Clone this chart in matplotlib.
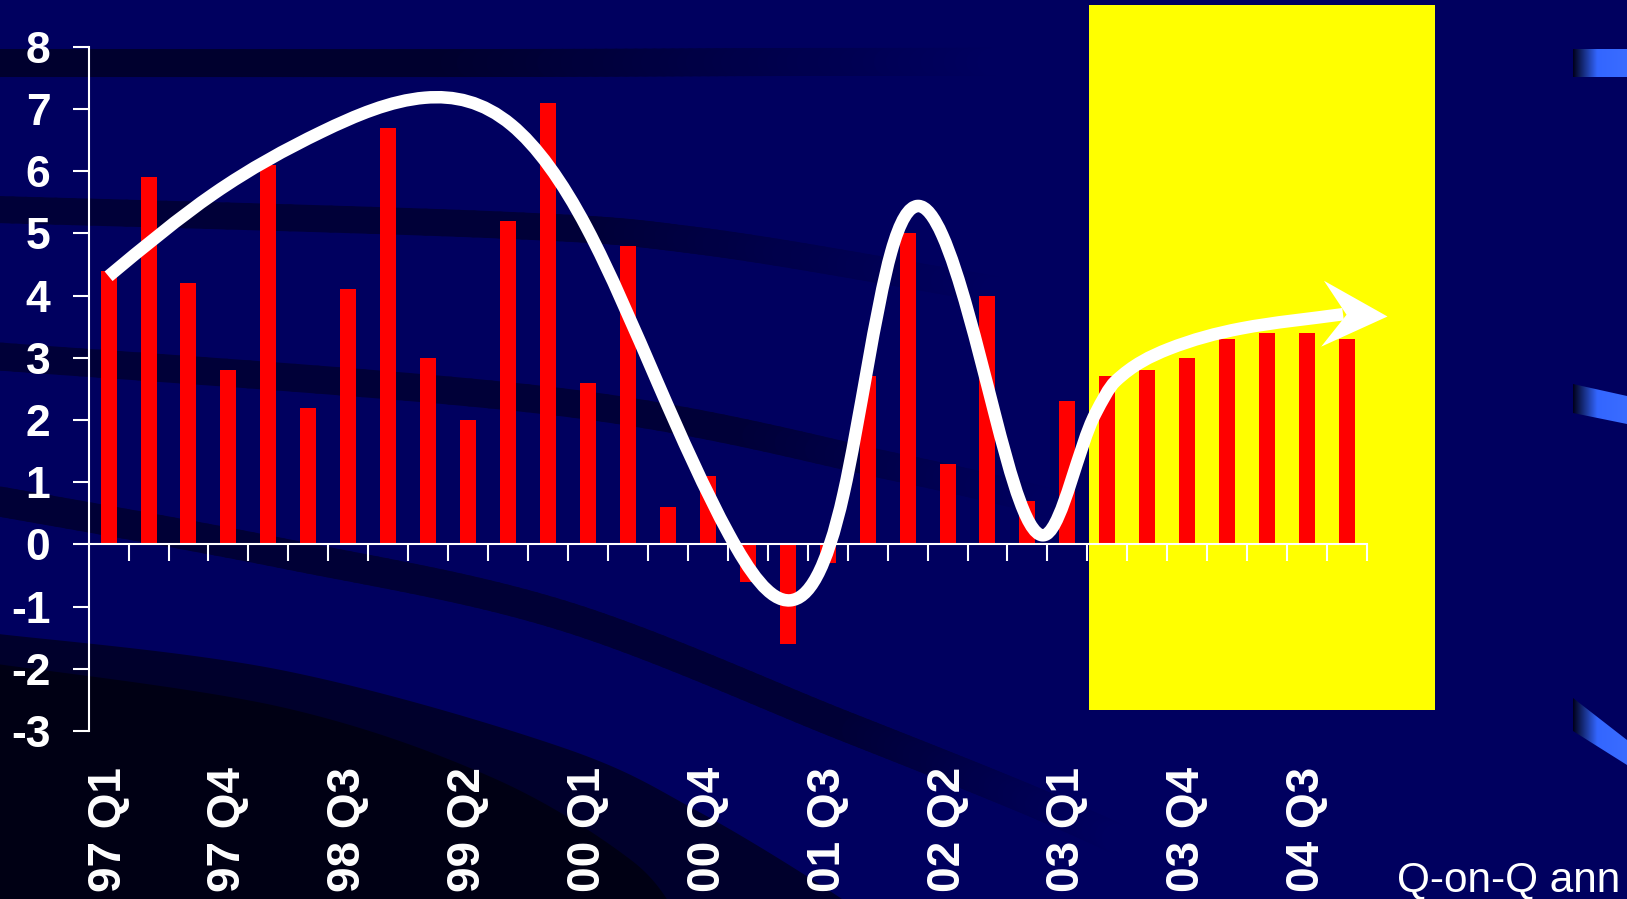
import numpy as np
import matplotlib
matplotlib.use("Agg")
import matplotlib.pyplot as plt
from matplotlib.patches import Rectangle, PathPatch, Polygon
from matplotlib.path import Path
from matplotlib.markers import MarkerStyle
from matplotlib.transforms import Affine2D
from matplotlib.collections import LineCollection
from matplotlib.colors import LinearSegmentedColormap, to_rgb

# ---------------- data ----------------
quarters = ["97 Q1", "97 Q2", "97 Q3", "97 Q4", "98 Q1", "98 Q2", "98 Q3", "98 Q4",
            "99 Q1", "99 Q2", "99 Q3", "99 Q4", "00 Q1", "00 Q2", "00 Q3", "00 Q4",
            "01 Q1", "01 Q2", "01 Q3", "01 Q4", "02 Q1", "02 Q2", "02 Q3", "02 Q4",
            "03 Q1", "03 Q2", "03 Q3", "03 Q4", "04 Q1", "04 Q2", "04 Q3", "04 Q4"]
growth = [4.4, 5.9, 4.2, 2.8, 6.1, 2.2, 4.1, 6.7, 3.0, 2.0, 5.2, 7.1,
          2.6, 4.8, 0.6, 1.1, -0.6, -1.6, -0.3, 2.7, 5.0, 1.3, 4.0, 0.7,
          2.3, 2.7, 2.8, 3.0, 3.3, 3.4, 3.4, 3.3]
yticks = [-3, -2, -1, 0, 1, 2, 3, 4, 5, 6, 7, 8]
label_step = 3
# hand-drawn trend arrow knots (category index, value)
trend_x = [0.0, 2.64, 5.33, 7.92, 10.09, 11.97, 13.75, 15.53, 17.06, 18.40, 19.59,
           20.26, 20.87, 22.16, 23.47, 24.7, 25.2, 26.53, 28.34, 30.9]
trend_y = [4.31, 5.64, 6.63, 7.18, 6.74, 5.09, 2.59, 0.16, -0.90, 0.82, 4.70,
           5.44, 4.97, 2.15, 0.16, 2.10, 2.62, 3.14, 3.47, 3.70]
tail_start = 24.7          # from here the arrow levels off monotonically
arrow_tip = (31.99, 3.67)
forecast_span = (24.55, 33.2)   # highlighted forecast region (x, category units)
forecast_y = (-2.66, 8.67)
note_text = "Q-on-Q ann"

# ---------------- style ----------------
BASE = "#00005f"
plt.rcParams["font.family"] = ["Liberation Sans", "DejaVu Sans"]
plt.rcParams["axes.unicode_minus"] = False

W, H, DPI = 1627, 899, 100
fig = plt.figure(figsize=(W / DPI, H / DPI), dpi=DPI)
fig.patch.set_facecolor(BASE)

# ---------------- background decoration (pixel coords) ----------------
bg = fig.add_axes([0, 0, 1, 1], zorder=-5)
bg.axis("off")


def smooth(pts, n=30):
    pts = np.asarray(pts, float)
    P = np.vstack([pts[0], pts, pts[-1]])
    out = []
    for i in range(1, len(P) - 2):
        p0, p1, p2, p3 = P[i - 1], P[i], P[i + 1], P[i + 2]
        t = np.linspace(0, 1, n, endpoint=False)[:, None]
        out.append(0.5 * ((2 * p1) + (-p0 + p2) * t + (2 * p0 - 5 * p1 + 4 * p2 - p3) * t ** 2
                          + (-p0 + 3 * p1 - 3 * p2 + p3) * t ** 3))
    out.append(P[-2][None, :])
    return np.vstack(out)


def band(pts, width_px, dark, fade_from, fade_to):
    s = smooth(pts)
    segs = np.stack([s[:-1], s[1:]], axis=1)
    xm = 0.5 * (s[:-1, 0] + s[1:, 0])
    t = np.clip((xm - fade_from) / (fade_to - fade_from), 0, 1)
    d = np.array(to_rgb(dark)); b = np.array(to_rgb(BASE))
    cols = d[None, :] * (1 - t[:, None]) + b[None, :] * t[:, None]
    lc = LineCollection(segs, colors=cols, linewidths=width_px * 72 / DPI,
                        capstyle="round", zorder=1)
    bg.add_collection(lc)


def region(pts, color, z):
    c = smooth(pts)
    poly = np.vstack([c, [(c[-1, 0], 920), (-10, 920)]])
    bg.add_patch(Polygon(poly, closed=True, facecolor=color, edgecolor="none", zorder=z))


band([(-20, 63), (500, 63), (800, 62), (1100, 62)], 28, "#00002e", 450, 1000)
band([(-20, 209), (500, 225), (700, 241), (950, 282), (1050, 300)], 27, "#000038", 600, 1000)
band([(-20, 355), (560, 402), (900, 468), (1060, 505)], 28, "#000038", 750, 1050)
band([(-20, 498), (281, 553), (561, 615), (842, 725), (1017, 795), (1120, 840)], 30,
     "#000036", 850, 1120)

# bottom-left dark sweep
region([(-10, 633), (281, 670), (561, 747), (701, 813), (842, 899), (860, 920)], "#00002c", 0.5)
region([(-10, 663), (281, 707), (491, 777), (631, 860), (680, 920)], "#000014", 0.6)

# blue ribbons on the right
rib_cmap = LinearSegmentedColormap.from_list("rib", [(0, "#00001a"), (0.45, "#3366ff"), (1, "#3a6cff")])
grad = np.linspace(0, 1, 256).reshape(1, -1)
for quad in [[(1573, 49), (1627, 49), (1627, 77), (1573, 77)],
             [(1573, 384), (1627, 396), (1627, 424), (1573, 413)],
             [(1573, 698), (1627, 740), (1627, 765), (1573, 731)]]:
    poly = Polygon(quad, closed=True, facecolor="none", edgecolor="none")
    bg.add_patch(poly)
    ys = [p[1] for p in quad]
    im = bg.imshow(grad, extent=[1573, 1627, max(ys), min(ys)], cmap=rib_cmap,
                   aspect="auto", zorder=2, interpolation="bilinear")
    im.set_clip_path(poly)

bg.set_xlim(0, W)
bg.set_ylim(H, 0)

# ---------------- main chart ----------------
left, right = 88.6, 1367.0
top, bottom = 46.7, 731.0
ax = fig.add_axes([left / W, (H - bottom) / H, (right - left) / W, (bottom - top) / H], zorder=1)
ax.set_facecolor("none")

x = np.arange(len(quarters))
ax.set_xlim(-0.5, len(quarters) - 0.5)
ax.set_ylim(min(yticks), max(yticks))

# highlighted forecast box
ax.add_patch(Rectangle((forecast_span[0], forecast_y[0]), forecast_span[1] - forecast_span[0],
                       forecast_y[1] - forecast_y[0], facecolor="#ffff00", edgecolor="none",
                       clip_on=False, zorder=0.5))

ax.bar(x, growth, width=0.40, color="#ff0000", zorder=1)

# spines
for s in ("top", "right"):
    ax.spines[s].set_visible(False)
ax.spines["bottom"].set_position(("data", 0))
for s in ("left", "bottom"):
    ax.spines[s].set_color("white")
    ax.spines[s].set_linewidth(1.5)

ax.set_xticks(x + 0.5)
ax.tick_params(axis="x", direction="out", length=12, width=1.5, color="white", labelbottom=False)
ax.set_yticks(yticks, labels=[str(v) for v in yticks], fontweight="bold")
ax.tick_params(axis="y", direction="out", length=11.5, width=1.5, color="white",
               labelcolor="white", labelsize=32, pad=16)

# category labels along the bottom of the plot area
sec = ax.secondary_xaxis("bottom")
sec.set_xticks(x[::label_step], labels=quarters[::label_step], rotation=90, fontweight="bold")
sec.tick_params(axis="x", length=0, pad=26, labelcolor="white", labelsize=33)
sec.spines["bottom"].set_visible(False)

# trend arrow: cubic Hermite curve through the knots (natural-spline tangents,
# monotone tangents on the levelling-off tail), drawn as Bezier segments
tx = np.asarray(trend_x, float)
ty = np.asarray(trend_y, float)
n = len(tx)
h = np.diff(tx)
d = np.diff(ty) / h
A = np.zeros((n - 2, n - 2))
rhs = np.zeros(n - 2)
for i in range(1, n - 1):
    r = i - 1
    if r > 0:
        A[r, r - 1] = h[i - 1]
    A[r, r] = 2 * (h[i - 1] + h[i])
    if r < n - 3:
        A[r, r + 1] = h[i]
    rhs[r] = 6 * (d[i] - d[i - 1])
M = np.zeros(n)
M[1:-1] = np.linalg.solve(A, rhs)
m = np.zeros(n)
m[:-1] = d - h * (2 * M[:-1] + M[1:]) / 6
m[-1] = d[-1] + h[-1] * (M[-2] + 2 * M[-1]) / 6
for k in range(1, n - 1):
    if tx[k] >= tail_start:
        if d[k - 1] * d[k] > 0:
            w1 = 2 * h[k] + h[k - 1]
            w2 = h[k] + 2 * h[k - 1]
            m[k] = (w1 + w2) / (w1 / d[k - 1] + w2 / d[k])
        else:
            m[k] = 0.0
m[-1] = d[-1]
verts = [(tx[0], ty[0])]
codes = [Path.MOVETO]
for k in range(n - 1):
    verts += [(tx[k] + h[k] / 3, ty[k] + m[k] * h[k] / 3),
              (tx[k + 1] - h[k] / 3, ty[k + 1] - m[k + 1] * h[k] / 3),
              (tx[k + 1], ty[k + 1])]
    codes += [Path.CURVE4] * 3
ax.add_patch(PathPatch(Path(verts, codes), facecolor="none", edgecolor="white", lw=9,
                       capstyle="butt", joinstyle="round", clip_on=False, zorder=3))

# barbed arrow head, oriented along the last stretch of the curve
p_end = ax.transData.transform((tx[-1], ty[-1]))
p_tip = ax.transData.transform(arrow_tip)
ang = np.degrees(np.arctan2(p_tip[1] - p_end[1], p_tip[0] - p_end[0]))
head = Path([(0, 0), (-65, 33), (-41, 0), (-65, -33), (0, 0)],
            [Path.MOVETO, Path.LINETO, Path.LINETO, Path.LINETO, Path.CLOSEPOLY])
ax.plot([arrow_tip[0]], [arrow_tip[1]],
        marker=MarkerStyle(head, transform=Affine2D().rotate_deg(ang)),
        markersize=130 * 72 / DPI, color="white", markeredgewidth=0,
        linestyle="none", clip_on=False, zorder=3.1)

fig.text(1397 / W, (H - 891.5) / H, note_text, fontsize=30.5, color="white",
         ha="left", va="baseline")

fig.savefig("out.png", dpi=DPI, facecolor=fig.get_facecolor())
